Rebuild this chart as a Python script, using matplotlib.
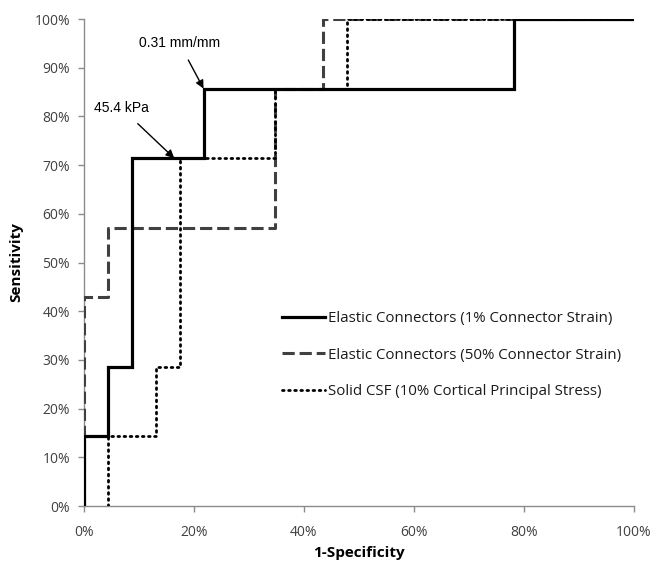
import matplotlib
matplotlib.use('Agg')
import matplotlib.pyplot as plt
from matplotlib.ticker import PercentFormatter

# ROC step curves (1-specificity, sensitivity), 23 negatives / 7 positives
n_neg = 23.0
n_pos = 7.0

solid_fpr = [0, 0, 1, 1, 2, 2, 5, 5, 18, 18, 23]
solid_tpr = [0, 1, 1, 2, 2, 5, 5, 6, 6, 7, 7]

dashed_fpr = [0, 0, 1, 1, 8, 8, 10, 10, 23]
dashed_tpr = [0, 3, 3, 4, 4, 6, 6, 7, 7]

dotted_fpr = [1, 1, 3, 3, 4, 4, 8, 8, 11, 11, 23]
dotted_tpr = [0, 1, 1, 2, 2, 5, 5, 6, 6, 7, 7]

labels = ['Elastic Connectors (1% Connector Strain)',
          'Elastic Connectors (50% Connector Strain)',
          'Solid CSF (10% Cortical Principal Stress)']

def frac(vals, n):
    return [v / n for v in vals]

fig = plt.figure(figsize=(6.52, 5.69), dpi=100)
ax = fig.add_axes([0.1288, 0.1107, 0.8436, 0.8559])

ax.plot(frac(solid_fpr, n_neg), frac(solid_tpr, n_pos), color='black', lw=2.3,
        label=labels[0], solid_joinstyle='miter', zorder=4)
ax.plot(frac(dashed_fpr, n_neg), frac(dashed_tpr, n_pos), color='#404040', lw=2.2,
        dashes=(4, 1.6), label=labels[1], zorder=3)
ax.plot(frac(dotted_fpr, n_neg), frac(dotted_tpr, n_pos), color='black', lw=2.0,
        linestyle=(0, (0.6, 1.6)), dash_capstyle='round', label=labels[2], zorder=3)

ax.set_xlim(0, 1)
ax.set_ylim(0, 1)
ax.set_xticks([i / 5 for i in range(6)])
ax.set_yticks([i / 10 for i in range(11)])
ax.xaxis.set_major_formatter(PercentFormatter(1.0, decimals=0))
ax.yaxis.set_major_formatter(PercentFormatter(1.0, decimals=0))

for s in ['top', 'right']:
    ax.spines[s].set_visible(False)
for s in ['left', 'bottom']:
    ax.spines[s].set_color('#8c8c8c')
    ax.spines[s].set_linewidth(1.0)
ax.tick_params(colors='#8c8c8c', length=4, width=1.0, labelcolor='#404040',
               labelsize=10)
ax.tick_params(axis='x', pad=10)
ax.tick_params(axis='y', pad=6)
for t in ax.get_xticklabels() + ax.get_yticklabels():
    t.set_family(['Open Sans', 'DejaVu Sans'])

ax.set_xlabel('1-Specificity', fontsize=11, fontweight='bold', family='Open Sans',
              labelpad=4)
ax.set_ylabel('Sensitivity', fontsize=11, fontweight='bold', family='Open Sans',
              labelpad=8)

ax.annotate('0.31 mm/mm', xy=(5 / n_neg, 6 / n_pos), xytext=(0.173, 0.951),
            ha='center', va='center', fontsize=10, family='Liberation Sans',
            arrowprops=dict(arrowstyle='-|>', color='black', lw=1.0,
                            mutation_scale=12, shrinkA=6, shrinkB=0))
ax.annotate('45.4 kPa', xy=(0.164, 5 / n_pos), xytext=(0.068, 0.817),
            ha='center', va='center', fontsize=10, family='Liberation Sans',
            arrowprops=dict(arrowstyle='-|>', color='black', lw=1.0,
                            mutation_scale=12, shrinkA=6, shrinkB=0))

leg = ax.legend(loc='center left', bbox_to_anchor=(0.335, 0.31), frameon=False,
                handlelength=2.9, handletextpad=0.2, labelspacing=1.45,
                prop={'family': 'Open Sans', 'size': 10.8})
for t in leg.get_texts():
    t.set_color('#1a1a1a')

fig.savefig('out.png', dpi=100)
